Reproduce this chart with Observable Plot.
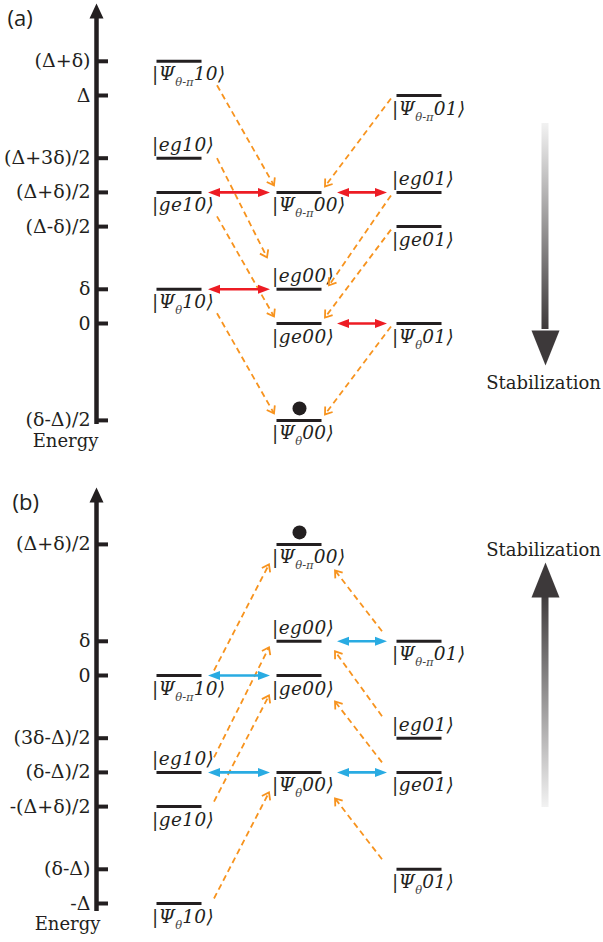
<!DOCTYPE html>
<html><head><meta charset="utf-8">
<script src="https://cdn.jsdelivr.net/npm/d3@7"></script>
<script src="https://cdn.jsdelivr.net/npm/@observablehq/plot@0.6"></script>
<style>
body{margin:0;background:#fff;}
#chart{width:603px;}
#chart svg{display:block;}
</style></head><body><div id="chart"></div>
<script>
const D = 1, d = 0.15;

// ---------- Panel (a) ----------
const ticksA = [D + d, D, (D + 3 * d) / 2, (D + d) / 2, (D - d) / 2, d, 0, (d - D) / 2];
const tickLabelsA = ["(Δ+δ)", "Δ", "(Δ+3δ)/2", "(Δ+δ)/2", "(Δ-δ)/2", "δ", "0", "(δ-Δ)/2"];
const statesA = ["Ψ_{θ-π}10", "eg10", "ge10", "Ψ_{θ}10", "Ψ_{θ-π}00", "eg00", "ge00", "Ψ_{θ}00", "Ψ_{θ-π}01", "eg01", "ge01", "Ψ_{θ}01"];
const columnsA = [0, 0, 0, 0, 1, 1, 1, 1, 2, 2, 2, 2];
const energiesA = [D + d, (D + 3 * d) / 2, (D + d) / 2, d, (D + d) / 2, d, 0, (d - D) / 2, D, (D + d) / 2, (D - d) / 2, 0];
const decayFromA = ["Ψ_{θ-π}10", "eg10", "ge10", "Ψ_{θ}10", "Ψ_{θ-π}01", "eg01", "ge01", "Ψ_{θ}01"];
const decayToA = ["Ψ_{θ-π}00", "eg00", "ge00", "Ψ_{θ}00", "Ψ_{θ-π}00", "eg00", "ge00", "Ψ_{θ}00"];
const coupleFromA = ["ge10", "Ψ_{θ}10", "Ψ_{θ-π}00", "ge00"];
const coupleToA = ["Ψ_{θ-π}00", "eg00", "eg01", "Ψ_{θ}01"];
const groundA = "Ψ_{θ}00";

// ---------- Panel (b) ----------
const ticksB = [(D + d) / 2, d, 0, (3 * d - D) / 2, (d - D) / 2, -(D + d) / 2, d - D, -D];
const tickLabelsB = ["(Δ+δ)/2", "δ", "0", "(3δ-Δ)/2", "(δ-Δ)/2", "-(Δ+δ)/2", "(δ-Δ)", "-Δ"];
const statesB = ["Ψ_{θ-π}10", "eg10", "ge10", "Ψ_{θ}10", "Ψ_{θ-π}00", "eg00", "ge00", "Ψ_{θ}00", "Ψ_{θ-π}01", "eg01", "ge01", "Ψ_{θ}01"];
const columnsB = [0, 0, 0, 0, 1, 1, 1, 1, 2, 2, 2, 2];
const energiesB = [0, (d - D) / 2, -(D + d) / 2, -D, (D + d) / 2, d, 0, (d - D) / 2, d, (3 * d - D) / 2, (d - D) / 2, d - D];
const decayFromB = ["Ψ_{θ-π}10", "eg10", "ge10", "Ψ_{θ}10", "Ψ_{θ-π}01", "eg01", "ge01", "Ψ_{θ}01"];
const decayToB = ["Ψ_{θ-π}00", "eg00", "ge00", "Ψ_{θ}00", "Ψ_{θ-π}00", "eg00", "ge00", "Ψ_{θ}00"];
const coupleFromB = ["Ψ_{θ-π}10", "eg10", "eg00", "Ψ_{θ}00"];
const coupleToB = ["ge00", "Ψ_{θ}00", "Ψ_{θ-π}01", "ge01"];
const groundB = "Ψ_{θ-π}00";

// ---------- layout / style ----------
const W = 603, XU = 120, YU = 228;           // px per column, px per Δ
const X_DOMAIN = [-179 / XU, (W - 179) / XU];
const HW = 22.5 / XU;                         // half length of a level line
const AX = (96 - 179) / XU;                   // energy axis position
const SX = (545 - 179) / XU;                  // stabilization arrow position
const INK = "#231f20", ORANGE = "#f7931e", RED = "#ed1c24", BLUE = "#29abe2";
const SERIF = "'DejaVu Serif', serif";

function head(len, hw) { return {draw(ctx) { ctx.moveTo(0, 0); ctx.lineTo(-len, -hw); ctx.lineTo(-len, hw); ctx.closePath(); }}; }
function chevron(len, ang) { const c = len * Math.cos(ang), s = len * Math.sin(ang); return {draw(ctx) { ctx.moveTo(-c, -s); ctx.lineTo(0, 0); ctx.lineTo(-c, s); }}; }

function makePanel(cfg) {
  const xOpt = {domain: X_DOMAIN, range: [0, W]};
  const yOpt = {domain: cfg.yDomain, range: [cfg.height, 0]};
  const sx = Plot.scale({x: xOpt}), sy = Plot.scale({y: yOpt});
  const P = (x, e, dxp, dyp) => ({x: x + dxp / XU, y: e - dyp / YU});
  const levels = cfg.states.map((s, i) => ({name: s, col: cfg.columns[i], e: cfg.energies[i], above: s.startsWith("eg")}));
  const L = new Map(levels.map(l => [l.name, l]));
  const decays = cfg.decayFrom.map((f, i) => {
    const s = L.get(f), t = L.get(cfg.decayTo[i]);
    const [a, b] = cfg.decayRule(s, t, P);
    const ang = Math.atan2(sy.apply(b.y) - sy.apply(a.y), sx.apply(b.x) - sx.apply(a.x)) * 180 / Math.PI;
    return {x1: a.x, y1: a.y, x2: b.x, y2: b.y, ang};
  });
  const couples = cfg.coupleFrom.map((n, i) => {
    const a = L.get(n), b = L.get(cfg.coupleTo[i]);
    const lo = a.col < b.col ? a : b, hi = a.col < b.col ? b : a;
    return {
      x1: lo.col + HW + (lo.col === 0 ? 6 : 15) / XU,
      x2: hi.col - HW - (hi.col === 1 ? 7 : 10) / XU,
      y: a.e
    };
  });
  const st = cfg.stab, ax = cfg.axis;
  const marks = [
    // stabilization arrow
    Plot.rect([st], {x1: () => SX - 3.5 / XU, x2: () => SX + 3.5 / XU, y1: s => s.tail, y2: s => s.base, fill: `url(#${cfg.gradId})`}),
    Plot.dot([st], {x: () => SX, y: s => s.tip, symbol: head(35, 14), rotate: st.tip < st.tail ? 90 : -90, fill: "#3d393a", stroke: "none"}),
    Plot.text([st], {x: () => SX, y: s => s.tip, text: () => "Stabilization", dy: st.textDy, dx: -2, lineAnchor: "bottom", textAnchor: "middle", fontFamily: SERIF, fontSize: 18, fill: INK}),
    // energy axis
    Plot.ruleX([ax], {x: () => AX, y1: a => a.bottom, y2: a => a.top - 8 / YU, stroke: INK, strokeWidth: 4.5}),
    Plot.dot([ax], {x: () => AX, y: a => a.top, symbol: head(15, 7), rotate: -90, fill: INK, stroke: "none"}),
    Plot.ruleY(cfg.ticks, {y: t => t, x1: () => AX, x2: () => AX + 12 / XU, stroke: INK, strokeWidth: 4}),
    Plot.text(cfg.ticks, {x: () => AX, y: t => t, text: (t, i) => cfg.tickLabels[i], textAnchor: "end", dx: -6, fontFamily: SERIF, fontSize: 19, fill: INK}),
    Plot.text([ax], {x: () => AX, y: a => a.bottom, text: () => "Energy", textAnchor: "middle", lineAnchor: "bottom", dx: ax.textDx, dy: ax.textDy, fontFamily: SERIF, fontSize: 18, fill: INK}),
    // levels
    Plot.ruleY(levels, {y: "e", x1: l => l.col - HW, x2: l => l.col + HW, stroke: INK, strokeWidth: 3}),
    Plot.text(levels, {x: l => l.col - HW, y: l => l.e - (l.above ? -7 : 19) / YU, text: l => "|" + l.name + "⟩", textAnchor: "start", lineAnchor: "bottom", dx: -5, fontFamily: SERIF, fontStyle: "italic", fontSize: 18.5, fill: INK}),
    // ground state population
    Plot.dot([L.get(cfg.ground)], {x: "col", y: l => l.e + 12 / YU, r: 7, fill: INK, stroke: "none"}),
    // decays
    Plot.link(decays, {x1: "x1", y1: "y1", x2: "x2", y2: "y2", stroke: ORANGE, strokeWidth: 1.8, strokeDasharray: "6,4"}),
    Plot.dot(decays, {x: "x2", y: "y2", rotate: "ang", symbol: chevron(8, 0.62), fill: "none", stroke: ORANGE, strokeWidth: 1.8}),
    // couplings
    Plot.link(couples, {x1: c => c.x1 + 6 / XU, x2: c => c.x2 - 6 / XU, y1: "y", y2: "y", stroke: cfg.coupleColor, strokeWidth: 2.6}),
    Plot.dot(couples, {x: "x2", y: "y", symbol: head(12, 4.5), rotate: 0, fill: cfg.coupleColor, stroke: "none"}),
    Plot.dot(couples, {x: "x1", y: "y", symbol: head(12, 4.5), rotate: 180, fill: cfg.coupleColor, stroke: "none"}),
    // panel letter
    Plot.text([cfg.letter], {frameAnchor: "top-left", text: t => t, dx: cfg.letterDx, dy: cfg.letterDy, textAnchor: "start", lineAnchor: "top", fontFamily: "'Open Sans', sans-serif", fontSize: 22, fill: INK})
  ];
  const svg = Plot.plot({
    width: W, height: cfg.height, margin: 0,
    x: {...xOpt, axis: null}, y: {...yOpt, axis: null},
    style: {background: "#fff", overflow: "visible"},
    marks
  });
  // gradient for the stabilization arrow
  const defs = d3.select(svg).insert("defs", ":first-child");
  const g = defs.append("linearGradient").attr("id", cfg.gradId).attr("x1", 0).attr("y1", 0).attr("x2", 0).attr("y2", 1);
  cfg.gradStops.forEach(([o, c]) => g.append("stop").attr("offset", o).attr("stop-color", c));
  // subscripts in the state labels
  svg.querySelectorAll("text").forEach(t => {
    const s = t.textContent;
    if (!s.includes("⟩")) return;
    t.setAttribute("letter-spacing", "0.4");
    if (!s.includes("_{")) return;
    t.textContent = "";
    const parts = s.split(/_\{([^}]*)\}/);
    parts.forEach((p, i) => {
      if (!p) return;
      const sp = document.createElementNS("http://www.w3.org/2000/svg", "tspan");
      sp.textContent = p;
      if (i % 2 === 1) { sp.setAttribute("dy", 6); sp.setAttribute("font-size", 11.5); sp.setAttribute("fill", "#444"); sp.setAttribute("letter-spacing", "0"); }
      else if (i > 0) sp.setAttribute("dy", -6);
      t.appendChild(sp);
    });
  });
  return svg;
}

const chart = document.getElementById("chart");
chart.appendChild(makePanel({
  height: 470, yDomain: [(323 - 470) / YU, 323 / YU],
  ticks: ticksA, tickLabels: tickLabelsA, states: statesA, columns: columnsA, energies: energiesA,
  decayFrom: decayFromA, decayTo: decayToA, coupleFrom: coupleFromA, coupleTo: coupleToA,
  ground: groundA, coupleColor: RED, letter: "(a)", letterDx: 7, letterDy: 10,
  axis: {bottom: (d - D) / 2 - 4 / YU, top: 320 / YU, textDx: -31, textDy: 23},
  stab: {tail: 200 / YU, base: -6 / YU, tip: -42 / YU, textDy: 23},
  gradId: "gradA", gradStops: [["0%", "#f2f2f2"], ["100%", "#3e3a3b"]],
  decayRule: (s, t, P) => s.col === 0
    ? [P(s.col + HW, s.e, 15, s.above ? 0 : 24), P(t.col - HW, t.e, t.above ? -10 : -3, t.above ? -32 : -7)]
    : [P(s.col - HW, s.e, -6, 3), P(t.col + HW, t.e, t.above ? 7 : 3, t.above ? -4 : -6)]
}));
chart.appendChild(makePanel({
  height: 472, yDomain: [(205 - 472) / YU, 205 / YU],
  ticks: ticksB, tickLabels: tickLabelsB, states: statesB, columns: columnsB, energies: energiesB,
  decayFrom: decayFromB, decayTo: decayToB, coupleFrom: coupleFromB, coupleTo: coupleToB,
  ground: groundB, coupleColor: BLUE, letter: "(b)", letterDx: 12, letterDy: 24,
  axis: {bottom: -D - 8 / YU, top: 188 / YU, textDx: -29, textDy: 18},
  stab: {tail: -132 / YU, base: 82 / YU, tip: 113 / YU, textDy: -7},
  gradId: "gradB", gradStops: [["0%", "#3e3a3b"], ["100%", "#f2f2f2"]],
  decayRule: (s, t, P) => s.col === 0
    ? [P(s.col + HW, s.e, 12, s.above ? -15 : -5), P(t.col - HW, t.e, -8, t.above ? 6 : 20)]
    : [P(s.col - HW, s.e, -15, s.above ? -22 : -10), P(t.col + HW, t.e, 13, t.above ? 10 : 26)]
}));
</script>
</body></html>
